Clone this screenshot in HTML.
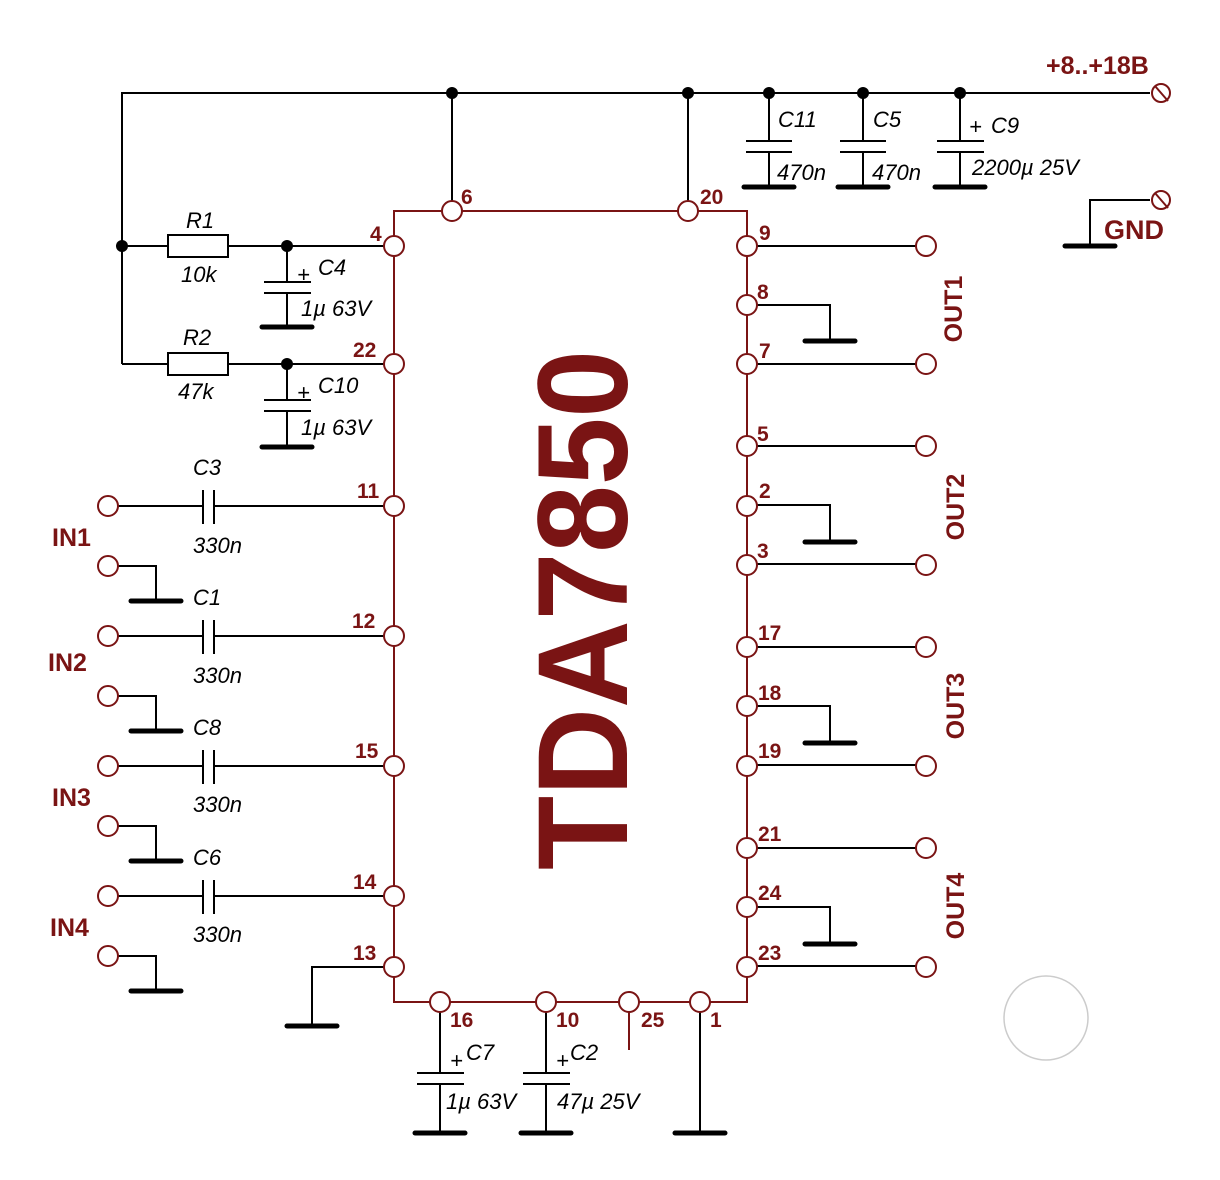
<!DOCTYPE html>
<html><head><style>body{margin:0;background:#fff}svg{display:block}</style></head><body>
<svg width="1220" height="1180" viewBox="0 0 1220 1180" xmlns="http://www.w3.org/2000/svg" font-family="Liberation Sans, sans-serif">
<defs>
<g id="gnd"><line x1="-25" y1="0" x2="25" y2="0" stroke="#000" stroke-width="5" stroke-linecap="round"/></g>
</defs>
<g stroke="#000" stroke-width="2" fill="none">
<polyline points="122,364 122,93 1150,93"/>
<line x1="452" y1="93" x2="452" y2="202"/>
<line x1="688" y1="93" x2="688" y2="202"/>
<line x1="122" y1="246" x2="168" y2="246"/><line x1="228" y1="246" x2="385" y2="246"/>
<rect x="168" y="235" width="60" height="22"/>
<line x1="122" y1="364" x2="168" y2="364"/><line x1="228" y1="364" x2="385" y2="364"/>
<rect x="168" y="353" width="60" height="22"/>
<line x1="287" y1="246" x2="287" y2="282"/><line x1="264" y1="282" x2="311" y2="282"/><line x1="264" y1="293" x2="311" y2="293"/><line x1="287" y1="293" x2="287" y2="327"/>
<line x1="287" y1="364" x2="287" y2="400"/><line x1="264" y1="400" x2="311" y2="400"/><line x1="264" y1="411" x2="311" y2="411"/><line x1="287" y1="411" x2="287" y2="447"/>
<line x1="769" y1="93" x2="769" y2="141"/><line x1="746" y1="141" x2="792" y2="141"/><line x1="746" y1="152" x2="792" y2="152"/><line x1="769" y1="152" x2="769" y2="187"/>
<line x1="863" y1="93" x2="863" y2="141"/><line x1="840" y1="141" x2="886" y2="141"/><line x1="840" y1="152" x2="886" y2="152"/><line x1="863" y1="152" x2="863" y2="187"/>
<line x1="960" y1="93" x2="960" y2="141"/><line x1="937" y1="141" x2="984" y2="141"/><line x1="937" y1="152" x2="984" y2="152"/><line x1="960" y1="152" x2="960" y2="187"/>
<polyline points="1150,200 1090,200 1090,246"/>
<g id="inp">
<line x1="117" y1="506" x2="203" y2="506"/><line x1="203" y1="490" x2="203" y2="524"/><line x1="214" y1="490" x2="214" y2="524"/><line x1="214" y1="506" x2="385" y2="506"/>
<polyline points="117,566 156,566 156,601"/>
</g>
<use href="#inp" y="130"/><use href="#inp" y="260"/><use href="#inp" y="390"/>
<g id="outg">
<line x1="756" y1="246" x2="917" y2="246"/>
<polyline points="756,305 830,305 830,341"/>
<line x1="756" y1="364" x2="917" y2="364"/>
</g>
<use href="#outg" y="200"/><use href="#outg" y="401"/><use href="#outg" y="602"/>
<polyline points="385,967 312,967 312,1026"/>
<line x1="440" y1="1011" x2="440" y2="1073"/><line x1="417" y1="1073" x2="464" y2="1073"/><line x1="417" y1="1084" x2="464" y2="1084"/><line x1="440" y1="1084" x2="440" y2="1133"/>
<line x1="546" y1="1011" x2="546" y2="1073"/><line x1="523" y1="1073" x2="570" y2="1073"/><line x1="523" y1="1084" x2="570" y2="1084"/><line x1="546" y1="1084" x2="546" y2="1133"/>
<line x1="700" y1="1011" x2="700" y2="1133"/>
</g>
<g>
<use href="#gnd" x="287" y="327"/><use href="#gnd" x="287" y="447"/>
<use href="#gnd" x="769" y="187"/><use href="#gnd" x="863" y="187"/><use href="#gnd" x="960" y="187"/>
<use href="#gnd" x="1090" y="246"/>
<use href="#gnd" x="156" y="601"/><use href="#gnd" x="156" y="731"/><use href="#gnd" x="156" y="861"/><use href="#gnd" x="156" y="991"/>
<use href="#gnd" x="830" y="341"/><use href="#gnd" x="830" y="542"/><use href="#gnd" x="830" y="743"/><use href="#gnd" x="830" y="944"/>
<use href="#gnd" x="312" y="1026"/>
<use href="#gnd" x="440" y="1133"/><use href="#gnd" x="546" y="1133"/><use href="#gnd" x="700" y="1133"/>
</g>
<g fill="#000">
<circle cx="452" cy="93" r="6"/><circle cx="688" cy="93" r="6"/><circle cx="769" cy="93" r="6"/><circle cx="863" cy="93" r="6"/><circle cx="960" cy="93" r="6"/>
<circle cx="122" cy="246" r="6"/><circle cx="287" cy="246" r="6"/><circle cx="287" cy="364" r="6"/>
</g>
<g stroke="#7a1414" stroke-width="2" fill="#fff">
<polyline fill="none" points="394,246 394,211 747,211 747,1002 394,1002 394,246"/>
<line x1="629" y1="1002" x2="629" y2="1050"/>
<circle cx="394" cy="246" r="10"/><circle cx="394" cy="364" r="10"/><circle cx="394" cy="506" r="10"/><circle cx="394" cy="636" r="10"/><circle cx="394" cy="766" r="10"/><circle cx="394" cy="896" r="10"/><circle cx="394" cy="967" r="10"/>
<circle cx="452" cy="211" r="10"/><circle cx="688" cy="211" r="10"/>
<circle cx="747" cy="246" r="10"/><circle cx="747" cy="305" r="10"/><circle cx="747" cy="364" r="10"/><circle cx="747" cy="446" r="10"/><circle cx="747" cy="506" r="10"/><circle cx="747" cy="565" r="10"/><circle cx="747" cy="647" r="10"/><circle cx="747" cy="706" r="10"/><circle cx="747" cy="766" r="10"/><circle cx="747" cy="848" r="10"/><circle cx="747" cy="907" r="10"/><circle cx="747" cy="967" r="10"/>
<circle cx="440" cy="1002" r="10"/><circle cx="546" cy="1002" r="10"/><circle cx="629" cy="1002" r="10"/><circle cx="700" cy="1002" r="10"/>
<circle cx="926" cy="246" r="10"/><circle cx="926" cy="364" r="10"/><circle cx="926" cy="446" r="10"/><circle cx="926" cy="565" r="10"/><circle cx="926" cy="647" r="10"/><circle cx="926" cy="766" r="10"/><circle cx="926" cy="848" r="10"/><circle cx="926" cy="967" r="10"/>
<circle cx="108" cy="506" r="10"/><circle cx="108" cy="566" r="10"/><circle cx="108" cy="636" r="10"/><circle cx="108" cy="696" r="10"/><circle cx="108" cy="766" r="10"/><circle cx="108" cy="826" r="10"/><circle cx="108" cy="896" r="10"/><circle cx="108" cy="956" r="10"/>
<circle cx="1161" cy="93" r="9"/><circle cx="1161" cy="200" r="9"/>
<line x1="1155" y1="86" x2="1168" y2="101"/><line x1="1155" y1="193" x2="1168" y2="208"/>
</g>
<circle cx="1046" cy="1018" r="42" fill="none" stroke="#ccc" stroke-width="1.5"/>
<g fill="#7a1414" font-weight="bold" font-size="21">
<text x="370" y="241">4</text><text x="353" y="357">22</text><text x="357" y="498">11</text><text x="352" y="628">12</text><text x="355" y="758">15</text><text x="353" y="889">14</text><text x="353" y="960">13</text>
<text x="461" y="204">6</text><text x="700" y="204">20</text>
<text x="759" y="240">9</text><text x="757" y="299">8</text><text x="759" y="358">7</text><text x="757" y="441">5</text><text x="759" y="498">2</text><text x="757" y="558">3</text><text x="758" y="640">17</text><text x="758" y="700">18</text><text x="758" y="758">19</text><text x="758" y="841">21</text><text x="758" y="900">24</text><text x="758" y="960">23</text>
<text x="450" y="1027">16</text><text x="556" y="1027">10</text><text x="641" y="1027">25</text><text x="710" y="1027">1</text>
<text x="52" y="546" font-size="25">IN1</text><text x="48" y="671" font-size="25">IN2</text><text x="52" y="806" font-size="25">IN3</text><text x="50" y="936" font-size="25">IN4</text>
<text x="1046" y="74" font-size="25">+8..+18B</text>
<text x="1104" y="239" font-size="27">GND</text>
<text transform="translate(962,309) rotate(-90)" text-anchor="middle" font-size="25">OUT1</text>
<text transform="translate(964,507) rotate(-90)" text-anchor="middle" font-size="25">OUT2</text>
<text transform="translate(964,706) rotate(-90)" text-anchor="middle" font-size="25">OUT3</text>
<text transform="translate(964,906) rotate(-90)" text-anchor="middle" font-size="25">OUT4</text>
<text transform="translate(627,610) rotate(-90)" text-anchor="middle" font-size="128" textLength="520" lengthAdjust="spacingAndGlyphs">TDA7850</text>
</g>
<g fill="#000" font-style="italic" font-size="22">
<text x="186" y="228">R1</text><text x="181" y="282">10k</text>
<text x="183" y="345">R2</text><text x="178" y="399">47k</text>
<text x="297" y="282">+</text><text x="318" y="275">C4</text><text x="301" y="316">1µ 63V</text>
<text x="297" y="400">+</text><text x="318" y="393">C10</text><text x="301" y="435">1µ 63V</text>
<text x="778" y="127">C11</text><text x="777" y="180">470n</text>
<text x="873" y="127">C5</text><text x="872" y="180">470n</text>
<text x="969" y="134">+</text><text x="991" y="133">C9</text><text x="972" y="175">2200µ 25V</text>
<text x="193" y="475">C3</text><text x="193" y="553">330n</text>
<text x="193" y="605">C1</text><text x="193" y="683">330n</text>
<text x="193" y="735">C8</text><text x="193" y="812">330n</text>
<text x="193" y="865">C6</text><text x="193" y="942">330n</text>
<text x="450" y="1068">+</text><text x="466" y="1060">C7</text><text x="446" y="1109">1µ 63V</text>
<text x="556" y="1068">+</text><text x="570" y="1060">C2</text><text x="557" y="1109">47µ 25V</text>
</g>
</svg>
</body></html>
